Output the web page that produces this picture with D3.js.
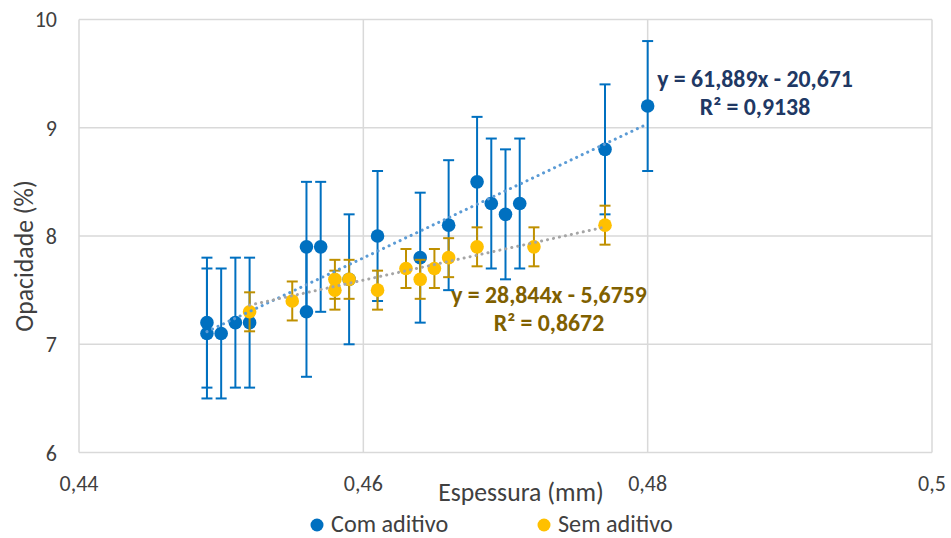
<!DOCTYPE html>
<html>
<head>
<meta charset="utf-8">
<script src="https://cdn.jsdelivr.net/npm/d3@7"></script>
<style>
  html, body { margin: 0; padding: 0; background: #fff; }
  svg { display: block; font-family: Carlito, Lato, "Open Sans", sans-serif; }
</style>
</head>
<body>
<svg id="chart" width="951" height="538"></svg>
<script>
// Com aditivo (blue)
const comX = [0.449, 0.449, 0.450, 0.451, 0.452, 0.456, 0.456, 0.457, 0.459, 0.461, 0.464, 0.466, 0.468, 0.469, 0.470, 0.471, 0.477, 0.480];
const comY = [7.2, 7.1, 7.1, 7.2, 7.2, 7.9, 7.3, 7.9, 7.6, 8.0, 7.8, 8.1, 8.5, 8.3, 8.2, 8.3, 8.8, 9.2];
const comErr = [0.6, 0.6, 0.6, 0.6, 0.6, 0.6, 0.6, 0.6, 0.6, 0.6, 0.6, 0.6, 0.6, 0.6, 0.6, 0.6, 0.6, 0.6];

// Sem aditivo (yellow)
const semX = [0.452, 0.455, 0.458, 0.458, 0.459, 0.461, 0.463, 0.464, 0.465, 0.466, 0.468, 0.472, 0.477];
const semY = [7.3, 7.4, 7.6, 7.5, 7.6, 7.5, 7.7, 7.6, 7.7, 7.8, 7.9, 7.9, 8.1];
const semErr = [0.18, 0.18, 0.18, 0.18, 0.18, 0.18, 0.18, 0.18, 0.18, 0.18, 0.18, 0.18, 0.18];

// linear trend lines, as printed on the chart
const comFit = { slope: 61.889, intercept: -20.671, eq: 'y = 61,889x - 20,671', r2: 'R² = 0,9138' };
const semFit = { slope: 28.844, intercept: -5.6759, eq: 'y = 28,844x - 5,6759', r2: 'R² = 0,8672' };

const xTicks = [0.44, 0.46, 0.48, 0.5];
const yTicks = [6, 7, 8, 9, 10];
const xTickLabels = ['0,44', '0,46', '0,48', '0,5'];

const BLUE = '#0070C0', YELLOW = '#FFC000', GOLD_BAR = '#BF9000';
const GRID = '#D9D9D9', TEXT = '#404040';

const svg = d3.select('#chart');
const x = d3.scaleLinear().domain([0.44, 0.5]).range([79, 932]);
const y = d3.scaleLinear().domain([6, 10]).range([452.6, 19.4]);

// grid
svg.append('g').selectAll('line').data(yTicks).join('line')
  .attr('x1', x(0.44)).attr('x2', x(0.5))
  .attr('y1', d => y(d)).attr('y2', d => y(d))
  .attr('stroke', GRID).attr('stroke-width', 1.5);
svg.append('g').selectAll('line').data(xTicks).join('line')
  .attr('x1', d => x(d)).attr('x2', d => x(d))
  .attr('y1', y(6)).attr('y2', y(10))
  .attr('stroke', GRID).attr('stroke-width', 1.5);

// tick labels
svg.append('g').selectAll('text').data(yTicks).join('text')
  .attr('x', 57).attr('y', d => y(d) + 8)
  .attr('text-anchor', 'end').attr('fill', TEXT).attr('font-size', 22)
  .text(d => d);
svg.append('g').selectAll('text').data(xTicks).join('text')
  .attr('x', d => x(d)).attr('y', 491)
  .attr('text-anchor', 'middle').attr('fill', TEXT).attr('font-size', 22)
  .text((d, i) => xTickLabels[i]);

// axis titles
svg.append('text').attr('x', 521).attr('y', 501).attr('text-anchor', 'middle')
  .attr('fill', TEXT).attr('font-size', 25.7).text('Espessura (mm)');
svg.append('text').attr('transform', 'translate(33,256) rotate(-90)').attr('text-anchor', 'middle')
  .attr('fill', TEXT).attr('font-size', 25.7).text('Opacidade (%)');

function drawSeries(xs, ys, errs, fill, barColor) {
  const pts = xs.map((d, i) => ({ x: d, y: ys[i], e: errs[i] }));
  const g = svg.append('g');
  const bars = g.selectAll('g').data(pts).join('g');
  bars.append('line')
    .attr('x1', d => x(d.x)).attr('x2', d => x(d.x))
    .attr('y1', d => y(d.y + d.e)).attr('y2', d => y(d.y - d.e))
    .attr('stroke', barColor).attr('stroke-width', 2);
  [1, -1].forEach(s => {
    bars.append('line')
      .attr('x1', d => x(d.x) - 5.5).attr('x2', d => x(d.x) + 5.5)
      .attr('y1', d => y(d.y + s * d.e)).attr('y2', d => y(d.y + s * d.e))
      .attr('stroke', barColor).attr('stroke-width', 2);
  });
  g.selectAll('circle').data(pts).join('circle')
    .attr('cx', d => x(d.x)).attr('cy', d => y(d.y)).attr('r', 6.8)
    .attr('fill', fill);
}

drawSeries(comX, comY, comErr, BLUE, BLUE);
drawSeries(semX, semY, semErr, YELLOW, GOLD_BAR);

function drawTrend(xs, fit, color) {
  const ext = d3.extent(xs);
  svg.append('line')
    .attr('x1', x(ext[0])).attr('y1', y(fit.slope * ext[0] + fit.intercept))
    .attr('x2', x(ext[1])).attr('y2', y(fit.slope * ext[1] + fit.intercept))
    .attr('stroke', color).attr('stroke-width', 3)
    .attr('stroke-dasharray', '0.1 6').attr('stroke-linecap', 'round');
}
drawTrend(comX, comFit, '#5B9BD5');
drawTrend(semX, semFit, '#A5A5A5');

// equation labels
const eqs = [
  { fit: comFit, cx: 755, y1: 87, y2: 115, color: '#203864' },
  { fit: semFit, cx: 549, y1: 303, y2: 331, color: '#7F6000' }
];
eqs.forEach(e => {
  svg.append('text').attr('x', e.cx).attr('y', e.y1).attr('text-anchor', 'middle')
    .attr('font-size', 23.8).attr('font-weight', 'bold').attr('fill', e.color).text(e.fit.eq);
  svg.append('text').attr('x', e.cx).attr('y', e.y2).attr('text-anchor', 'middle')
    .attr('font-size', 23.8).attr('font-weight', 'bold').attr('fill', e.color).text(e.fit.r2);
});

// legend
const legend = [
  { label: 'Com aditivo', color: BLUE, x: 317 },
  { label: 'Sem aditivo', color: YELLOW, x: 544 }
];
const lg = svg.append('g').selectAll('g').data(legend).join('g');
lg.append('circle').attr('cx', d => d.x).attr('cy', 525).attr('r', 6.5).attr('fill', d => d.color);
lg.append('text').attr('x', d => d.x + 14).attr('y', 532)
  .attr('fill', TEXT).attr('font-size', 24.2).text(d => d.label);
</script>
</body>
</html>
